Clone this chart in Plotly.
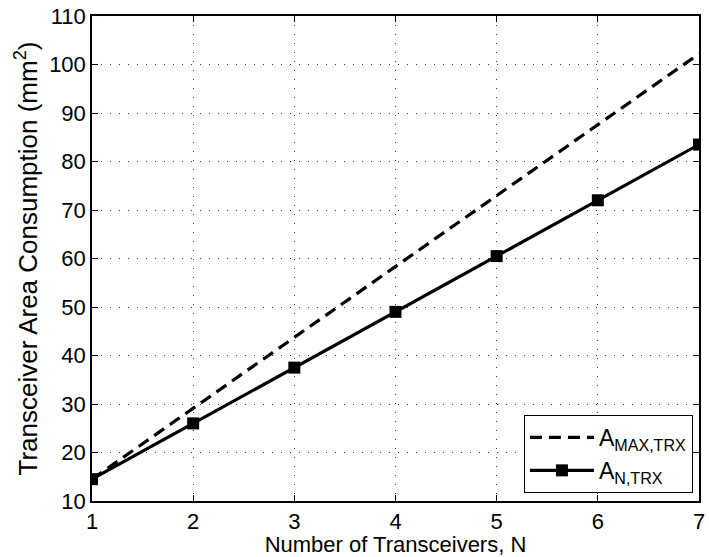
import plotly.graph_objects as go

# Number of transceivers
n_trx = [1, 2, 3, 4, 5, 6, 7]
# Worst-case transceiver area (mm^2)
area_max = [14.5, 29.1, 43.8, 58.4, 73.0, 87.6, 102.2]
# Area with shared blocks (mm^2)
area_n = [14.5, 26.0, 37.5, 49.0, 60.5, 72.0, 83.5]

x_ticks = [1, 2, 3, 4, 5, 6, 7]
y_ticks = [10, 20, 30, 40, 50, 60, 70, 80, 90, 100, 110]

FONT = "Liberation Sans, Arial, Helvetica, sans-serif"

fig = go.Figure()
fig.add_trace(go.Scatter(
    x=n_trx, y=area_max, mode="lines",
    name="A<sub>MAX,TRX</sub>",
    line=dict(color="black", width=3.2, dash="12px,7px"),
))
fig.add_trace(go.Scatter(
    x=n_trx, y=area_n, mode="lines+markers",
    name="A<sub>N,TRX</sub>",
    line=dict(color="black", width=3.2),
    marker=dict(symbol="square", size=12, color="black"),
))

axis_common = dict(
    showline=True, linecolor="black", linewidth=1.5, mirror="ticks",
    ticks="inside", ticklen=6, tickcolor="black", tickwidth=1,
    showgrid=True, gridcolor="#333", gridwidth=1, griddash="1px,8px",
    zeroline=False, ticklabeloverflow="allow",
    tickfont=dict(family=FONT, size=22, color="black"),
)

fig.update_xaxes(
    range=[1, 7], tickvals=x_ticks,
    title=dict(text="Number of Transceivers, N", standoff=0,
               font=dict(family=FONT, size=22, color="black")),
    **axis_common,
)
fig.update_yaxes(
    range=[10, 110], tickvals=y_ticks,
    title=dict(text="Transceiver Area Consumption (mm<sup>2</sup>)", standoff=4,
               font=dict(family=FONT, size=26, color="black")),
    **axis_common,
)

fig.update_layout(
    width=709, height=557,
    margin=dict(l=92, r=4, t=16, b=56),
    paper_bgcolor="white", plot_bgcolor="white",
    font=dict(family=FONT, size=22, color="black"),
    showlegend=True,
    legend=dict(
        x=0.99, y=0.0165, xanchor="right", yanchor="bottom",
        bgcolor="white", bordercolor="black", borderwidth=1,
        font=dict(family=FONT, size=23, color="black"),
        itemwidth=64, tracegroupgap=0,
    ),
)

fig.write_html("out.html")
